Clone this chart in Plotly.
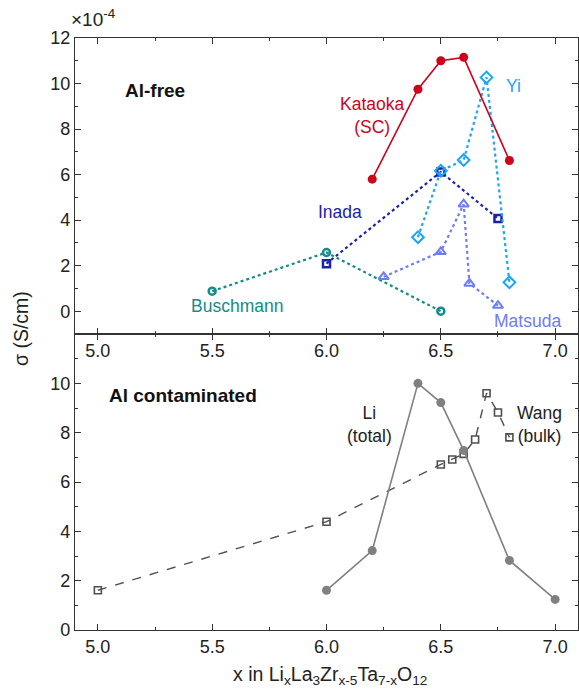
import plotly.graph_objects as go

# ---- data (top panel: Al-free), sigma in 1e-4 S/cm ----
kataoka_x = [6.2, 6.4, 6.5, 6.6, 6.8]
kataoka_y = [5.8, 9.75, 11.0, 11.15, 6.62]

yi_x = [6.4, 6.5, 6.6, 6.7, 6.8]
yi_y = [3.25, 6.17, 6.64, 10.27, 1.27]

inada_x = [6.0, 6.5, 6.75]
inada_y = [2.09, 6.12, 4.07]

matsuda_x = [6.25, 6.5, 6.6, 6.625, 6.75]
matsuda_y = [1.51, 2.61, 4.70, 1.22, 0.25]

buschmann_x = [5.5, 6.0, 6.5]
buschmann_y = [0.88, 2.58, 0.0]

# ---- data (bottom panel: Al contaminated) ----
li_x = [6.0, 6.2, 6.4, 6.5, 6.6, 6.8, 7.0]
li_y = [1.61, 3.22, 10.0, 9.22, 7.28, 2.82, 1.24]

wang_x = [5.0, 6.0, 6.5, 6.55, 6.6, 6.65, 6.7, 6.75, 6.8]
wang_y = [1.61, 4.39, 6.71, 6.91, 7.14, 7.72, 9.60, 8.82, 7.81]

x_ticks = [5.0, 5.5, 6.0, 6.5, 7.0]
top_y_ticks = [0, 2, 4, 6, 8, 10, 12]
bot_y_ticks = [0, 2, 4, 6, 8, 10]

FONT = "Liberation Sans, Arial, sans-serif"
RED = "#d0021b"
YI = "#1ca5f5"
INADA = "#1c22a8"
MATSUDA = "#6e7cfa"
BUSCH = "#138c8a"
LIGRAY = "#808080"
WANG = "#505050"

fig = go.Figure()

def add(x, y, color, symbol, msize, mlw, dash, lw, xa, ya, fill=None):
    fig.add_trace(go.Scatter(
        x=x, y=y, mode="lines+markers", xaxis=xa, yaxis=ya,
        line=dict(color=color, width=lw, dash=dash),
        marker=dict(symbol=symbol, size=msize, color=fill if fill else color,
                    line=dict(color=color, width=mlw)),
        showlegend=False, cliponaxis=False))

add(buschmann_x, buschmann_y, BUSCH, "circle-open", 7, 2.5, "dot", 2.2, "x", "y")
add(inada_x, inada_y, INADA, "square-open", 7, 2.5, "dot", 2.2, "x", "y")
add(matsuda_x, matsuda_y, MATSUDA, "triangle-up-open", 9, 2, "dot", 2.2, "x", "y")
add(yi_x, yi_y, YI, "diamond-open", 9, 2, "dot", 2.2, "x", "y")
add(kataoka_x, kataoka_y, RED, "circle", 9, 0, "solid", 1.6, "x", "y")

add(wang_x, wang_y, WANG, "square-open", 7, 1.6, "dash", 1.4, "x2", "y2")
add(li_x, li_y, LIGRAY, "circle", 9, 0, "solid", 1.6, "x2", "y2")

axis_common = dict(
    showgrid=False, zeroline=False, showline=True, linecolor="#333333", linewidth=1.3,
    ticks="inside", ticklen=6, tickwidth=1.2, tickcolor="#333333",
    tickfont=dict(family=FONT, size=18, color="#222222"),
)

fig.update_layout(
    width=579, height=691,
    margin=dict(l=75, r=1, t=38, b=61),
    paper_bgcolor="white", plot_bgcolor="white",
    font=dict(family=FONT, size=18, color="#222222"),
    xaxis=dict(axis_common, range=[4.9, 7.1], tickvals=x_ticks, tickformat=".1f",
               anchor="y", mirror="allticks",
               minor=dict(dtick=0.25, tick0=0, ticks="inside", ticklen=3, tickcolor="#333333")),
    yaxis=dict(axis_common, range=[-1, 12], tickvals=top_y_ticks, domain=[0.5, 1.0],
               anchor="x", mirror="ticks",
               minor=dict(dtick=1, tick0=0, ticks="inside", ticklen=3, tickcolor="#333333")),
    xaxis2=dict(axis_common, range=[4.9, 7.1], tickvals=x_ticks, tickformat=".1f",
                anchor="y2", mirror="ticks",
                minor=dict(dtick=0.25, tick0=0, ticks="inside", ticklen=3, tickcolor="#333333")),
    yaxis2=dict(axis_common, range=[0, 12], tickvals=bot_y_ticks, domain=[0.0, 0.5],
                anchor="x2", mirror="ticks",
                minor=dict(dtick=1, tick0=0, ticks="inside", ticklen=3, tickcolor="#333333")),
)

def note(text, x, y, color, xref="x", yref="y", bold=False, size=17.5, xanchor="center"):
    fig.add_annotation(text=f"<b>{text}</b>" if bold else text, x=x, y=y, xref=xref, yref=yref,
                       showarrow=False, xanchor=xanchor, yanchor="middle",
                       font=dict(family=FONT, size=size, color=color))

note("Al-free", 5.11, 9.7, "#111111", bold=True, size=19, xanchor="left")
note("Kataoka<br>(SC)", 6.2, 8.6, RED)
note("Yi", 6.82, 9.9, YI)
note("Inada", 6.06, 4.35, INADA)
note("Buschmann", 5.61, 0.23, BUSCH)
note("Matsuda", 6.88, -0.43, MATSUDA)

note("Al contaminated", 5.04, 9.5, "#111111", xref="x2", yref="y2", bold=True, size=19, xanchor="left")
note("Li<br>(total)", 6.19, 8.34, "#222222", xref="x2", yref="y2")
note("Wang<br>(bulk)", 6.93, 8.34, "#222222", xref="x2", yref="y2")

# multiplier and axis titles
fig.add_annotation(text="×10<sup>-4</sup>", x=(69 - 75) / 503, y=(691 - 61 - 18) / 592 * 1.0,
                   xref="paper", yref="paper", showarrow=False, xanchor="left", yanchor="middle",
                   font=dict(family=FONT, size=19, color="#222222"))
fig.add_annotation(text="σ (S/cm)", x=(21 - 75) / 503, y=(630 - 329) / 592,
                   xref="paper", yref="paper", showarrow=False, textangle=-90,
                   xanchor="center", yanchor="middle",
                   font=dict(family=FONT, size=19.5, color="#222222"))
fig.add_annotation(text="x in Li<sub>x</sub>La<sub>3</sub>Zr<sub>x-5</sub>Ta<sub>7-x</sub>O<sub>12</sub>",
                   x=(330 - 75) / 503, y=(630 - 675) / 592,
                   xref="paper", yref="paper", showarrow=False,
                   xanchor="center", yanchor="middle",
                   font=dict(family=FONT, size=19.5, color="#222222"))

fig.write_html("out.html")
